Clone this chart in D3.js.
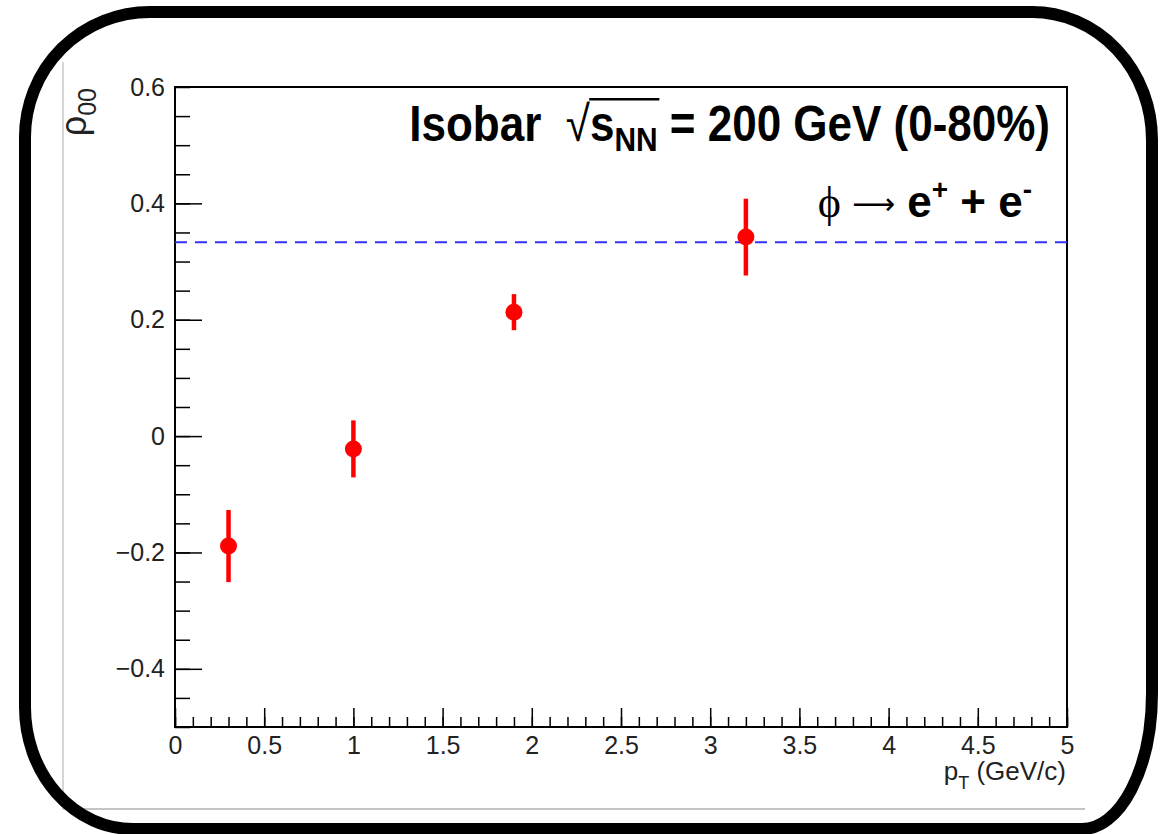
<!DOCTYPE html>
<html>
<head>
<meta charset="utf-8">
<script src="https://cdn.jsdelivr.net/npm/d3@7"></script>
<style>
  body { margin: 0; background: #fff; }
  text { font-family: "Liberation Sans", Arial, sans-serif; }
</style>
</head>
<body>
<div id="chart"></div>
<script>
// data
var pt = [0.3, 1.0, 1.9, 3.2];
var rho00 = [-0.189, -0.022, 0.213, 0.342];
var rhoErr = [0.062, 0.049, 0.031, 0.066];
var xTicks = [0, 0.5, 1, 1.5, 2, 2.5, 3, 3.5, 4, 4.5, 5];
var yTicks = [-0.4, -0.2, 0, 0.2, 0.4, 0.6];
var refLine = 1 / 3;

var W = 1170, H = 834;
var margin = {top: 87, right: 103, bottom: 107, left: 175},
    width = W - margin.left - margin.right,
    height = H - margin.top - margin.bottom;

var svg = d3.select("#chart")
    .append("svg")
    .attr("width", W)
    .attr("height", H);

// canvas edges (light gray)
svg.append("line").attr("x1", 63).attr("x2", 63).attr("y1", 62).attr("y2", 809)
    .attr("stroke", "#c8c8c8").attr("stroke-width", 1.5);
svg.append("line").attr("x1", 63).attr("x2", 1085).attr("y1", 809).attr("y2", 809)
    .attr("stroke", "#b0b0b0").attr("stroke-width", 1.5);

var g = svg.append("g")
    .attr("transform", "translate(" + margin.left + "," + margin.top + ")");

var x = d3.scaleLinear().domain([0, 5]).range([0, width]);
var y = d3.scaleLinear().domain([-0.5, 0.6]).range([height, 0]);

// minor ticks
var xMinor = d3.range(0, 51).map(function(i) { return i / 10; });
var yMinor = d3.range(-10, 13).map(function(i) { return i / 20; });

g.append("g")
    .attr("transform", "translate(0," + height + ")")
    .call(d3.axisTop(x).tickValues(xMinor).tickSize(10).tickFormat(""))
    .call(function(s) { s.select(".domain").remove(); s.selectAll("line").attr("stroke-width", 1.5); });
g.append("g")
    .call(d3.axisRight(y).tickValues(yMinor).tickSize(15).tickFormat(""))
    .call(function(s) { s.select(".domain").remove(); s.selectAll("line").attr("stroke-width", 1.5); });

// major ticks + labels
var xAxis = g.append("g")
    .attr("transform", "translate(0," + height + ")")
    .call(d3.axisTop(x).tickValues(xTicks).tickSize(19).tickFormat(d3.format("")));
xAxis.select(".domain").remove();
xAxis.selectAll("line").attr("stroke-width", 1.5);
xAxis.selectAll("text")
    .attr("y", 9).attr("dy", "0.71em")
    .style("font-size", "25px").attr("fill", "#222");

var yAxis = g.append("g")
    .call(d3.axisRight(y).tickValues(yTicks).tickSize(27)
        .tickFormat(function(d) { return d3.format("")(d).replace("-", "\u2212"); }));
yAxis.select(".domain").remove();
yAxis.selectAll("line").attr("stroke-width", 1.5);
yAxis.selectAll("text")
    .attr("x", -10).attr("text-anchor", "end")
    .style("font-size", "25px").attr("fill", "#222");
yAxis.selectAll(".tick").filter(function(d) { return d === 0.6; }).select("line").remove();

// frame
g.append("rect")
    .attr("width", width).attr("height", height)
    .attr("fill", "none").attr("stroke", "#000").attr("stroke-width", 2);

// 1/3 reference
g.append("line")
    .attr("x1", 0).attr("x2", width)
    .attr("y1", y(refLine)).attr("y2", y(refLine))
    .attr("stroke", "#3333ff").attr("stroke-width", 2)
    .attr("stroke-dasharray", "12,8");

// data points
var pts = pt.map(function(d, i) { return {x: d, y: rho00[i], e: rhoErr[i]}; });
g.selectAll(".err").data(pts).enter().append("line")
    .attr("x1", function(d) { return x(d.x); })
    .attr("x2", function(d) { return x(d.x); })
    .attr("y1", function(d) { return y(d.y + d.e); })
    .attr("y2", function(d) { return y(d.y - d.e); })
    .attr("stroke", "#ff0000").attr("stroke-width", 4.5);
g.selectAll(".pt").data(pts).enter().append("circle")
    .attr("cx", function(d) { return x(d.x); })
    .attr("cy", function(d) { return y(d.y); })
    .attr("r", 8.5).attr("fill", "#ff0000");

// axis titles
var xt = svg.append("text")
    .attr("x", 1066).attr("y", 780)
    .attr("text-anchor", "end")
    .style("font-size", "26px").attr("fill", "#222");
xt.append("tspan").text("p");
xt.append("tspan").attr("dy", 9).style("font-size", "18px").text("T");
xt.append("tspan").attr("dy", -9).text(" (GeV/c)");

var yt = svg.append("text")
    .attr("transform", "translate(86,88) rotate(-90)")
    .attr("text-anchor", "end")
    .style("font-size", "36px").attr("fill", "#222");
yt.append("tspan").text("\u03c1");
yt.append("tspan").attr("dy", 10).style("font-size", "25px").text("00");

// title
var tg = svg.append("g").attr("transform", "translate(1050,141) scale(0.88,1)");
var tt = tg.append("text")
    .attr("text-anchor", "end")
    .style("font-size", "50px").style("font-weight", "bold");
tt.append("tspan").text("Isobar\u00a0\u00a0");
var rad = tt.append("tspan").style("font-weight", "normal").text("\u221a");
tt.append("tspan").text("s");
var nn = tt.append("tspan").attr("dy", 10).style("font-size", "34px").text("NN");
tt.append("tspan").attr("dy", -10).text(" = 200 GeV (0-80%)");

// sqrt overline
var rb = rad.node().getBBox(), nb = nn.node().getBBox();
tg.append("line")
    .attr("x1", rb.x + rb.width - 1).attr("x2", nb.x + nb.width + 2)
    .attr("y1", rb.y + 4).attr("y2", rb.y + 4)
    .attr("stroke", "#000").attr("stroke-width", 2.5);

// decay channel
var dg = svg.append("g").attr("transform", "translate(1032,217)");
var dt = dg.append("text").attr("text-anchor", "end").style("font-size", "44px");
dt.append("tspan").style("font-family", "Liberation Serif, serif").text("\u03d5\u00a0");
dt.append("tspan").style("font-family", "DejaVu Sans, sans-serif").style("font-size", "30px")
    .attr("dy", -3).text("\u27f6");
dt.append("tspan").attr("dy", 3).text("\u00a0");
dt.append("tspan").style("font-weight", "bold").text("e");
dt.append("tspan").attr("dy", -18).style("font-size", "28px").style("font-weight", "bold").text("+");
dt.append("tspan").attr("dy", 18).style("font-weight", "bold").text(" + e");
dt.append("tspan").attr("dy", -18).style("font-size", "28px").style("font-weight", "bold").text("-");

// outer rounded border
var bx0 = 25, by0 = 12, bx1 = 1152, by1 = 829;
var border = "M" + (bx0 + 125) + "," + by0 +
    " L" + (bx1 - 120) + "," + by0 +
    " A120,128 0 0 1 " + bx1 + "," + (by0 + 128) +
    " L" + bx1 + "," + (by1 - 136) +
    " A70,136 0 0 1 " + (bx1 - 70) + "," + by1 +
    " L" + (bx0 + 108) + "," + by1 +
    " A108,122 0 0 1 " + bx0 + "," + (by1 - 122) +
    " L" + bx0 + "," + (by0 + 125) +
    " A125,125 0 0 1 " + (bx0 + 125) + "," + by0 + " Z";
svg.append("path").attr("d", border)
    .attr("fill", "none").attr("stroke", "#000").attr("stroke-width", 12);
</script>
</body>
</html>
